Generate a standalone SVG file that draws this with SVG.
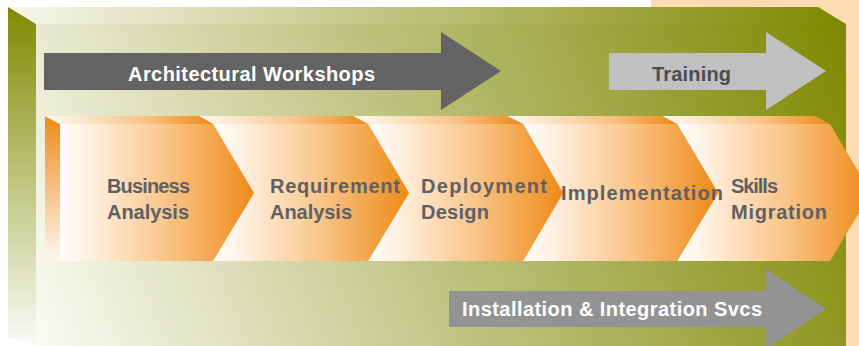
<svg xmlns="http://www.w3.org/2000/svg" width="859" height="346" viewBox="0 0 859 346">
<defs>
<linearGradient id="gFront" gradientUnits="userSpaceOnUse" x1="36" y1="346" x2="846" y2="24">
<stop offset="0" stop-color="#fbfbf3"/>
<stop offset="0.5" stop-color="#bac079"/>
<stop offset="1" stop-color="#7e8900"/>
</linearGradient>
<linearGradient id="gTop" gradientUnits="userSpaceOnUse" x1="8" y1="0" x2="846" y2="0">
<stop offset="0" stop-color="#f7f7ec"/>
<stop offset="1" stop-color="#7e8900"/>
</linearGradient>
<linearGradient id="gLeft" gradientUnits="userSpaceOnUse" x1="0" y1="7" x2="0" y2="340">
<stop offset="0" stop-color="#7f8b00"/>
<stop offset="1" stop-color="#f9f9f2"/>
</linearGradient>
<linearGradient id="gChev" x1="0" y1="0" x2="1" y2="0">
<stop offset="0" stop-color="#fffdfb"/>
<stop offset="0.15" stop-color="#fff1e2"/>
<stop offset="0.55" stop-color="#f9c589"/>
<stop offset="1" stop-color="#ee8a18"/>
</linearGradient>
<linearGradient id="gChevTop" x1="0" y1="0" x2="1" y2="0">
<stop offset="0" stop-color="#fffaf4"/>
<stop offset="0.6" stop-color="#f8c286"/>
<stop offset="1" stop-color="#ee8a18"/>
</linearGradient>
<linearGradient id="gChevSide" x1="0" y1="0" x2="0" y2="1">
<stop offset="0" stop-color="#ee8a18"/>
<stop offset="1" stop-color="#fff8f0"/>
</linearGradient>
</defs>
<style>
.lbl{font-family:"Liberation Sans",Arial,sans-serif;font-weight:bold;font-size:20px}
.chev{fill:url(#gChev)}
.chevtop{fill:url(#gChevTop)}
.ct{fill:#5f6066}
.wt{fill:#ffffff}
</style>
<rect x="0" y="0" width="859" height="346" fill="#ffffff"/>
<rect x="651" y="0" width="208" height="346" fill="#fddcb4"/>
<g id="box">
<path d="M8,7 L818,7 L846,24 L36,24 Z" fill="url(#gTop)"/>
<path d="M8,7 L36,24 L36,346 L8,338 Z" fill="url(#gLeft)"/>
<rect x="36" y="24" width="810" height="322" fill="url(#gFront)"/>
</g>
<g id="architectural-workshops">
<path d="M44,53 L441,53 L441,32 L501,71 L441,110 L441,90 L44,90 Z" fill="#636363"/>
<text class="lbl wt" x="251.5" y="81" text-anchor="middle" textLength="247">Architectural Workshops</text>
</g>
<g id="training">
<path d="M609,53 L766,53 L766,32 L826,71 L766,110 L766,90 L609,90 Z" fill="#c0c0c0"/>
<text class="lbl" x="691.5" y="81" text-anchor="middle" textLength="79" fill="#4d4d4d">Training</text>
</g>
<g id="skills-migration">
<path class="chevtop" d="M662,116 L815,116 L830,124 L677,124 Z"/>
<path class="chev" d="M677,124 L830,124 L871,193 L830,261 L677,261 L718,193 Z"/>
<text class="lbl ct" x="731" y="193" textLength="47">Skills</text>
<text class="lbl ct" x="731" y="219" textLength="96">Migration</text>
</g>
<g id="implementation">
<path class="chevtop" d="M507,116 L662,116 L677,124 L523,124 Z"/>
<path class="chev" d="M523,124 L677,124 L718,193 L677,261 L523,261 L563,193 Z"/>
<text class="lbl ct" x="561" y="200" textLength="162">Implementation</text>
</g>
<g id="deployment-design">
<path class="chevtop" d="M353,116 L507,116 L523,124 L368,124 Z"/>
<path class="chev" d="M368,124 L523,124 L563,193 L523,261 L368,261 L409,193 Z"/>
<text class="lbl ct" x="421" y="193" textLength="126">Deployment</text>
<text class="lbl ct" x="421" y="219" textLength="68">Design</text>
</g>
<g id="requirement-analysis">
<path class="chevtop" d="M199,116 L353,116 L368,124 L213,124 Z"/>
<path class="chev" d="M213,124 L368,124 L409,193 L368,261 L213,261 L254,193 Z"/>
<text class="lbl ct" x="270" y="193" textLength="130">Requirement</text>
<text class="lbl ct" x="270" y="219" textLength="82">Analysis</text>
</g>
<g id="business-analysis">
<path d="M45,116 L60,124 L60,261 L45,254 Z" fill="url(#gChevSide)"/>
<path class="chevtop" d="M45,116 L199,116 L213,124 L60,124 Z"/>
<path class="chev" d="M60,124 L213,124 L254,193 L213,261 L60,261 Z"/>
<text class="lbl ct" x="107" y="193" textLength="83">Business</text>
<text class="lbl ct" x="107" y="219" textLength="82">Analysis</text>
</g>
<g id="installation-integration">
<path d="M449,291 L766,291 L766,269 L826,309 L766,349 L766,327 L449,327 Z" fill="#939393"/>
<text class="lbl wt" x="612" y="316" text-anchor="middle" textLength="300">Installation &amp; Integration Svcs</text>
</g>
<g id="connectors"/>
</svg>
